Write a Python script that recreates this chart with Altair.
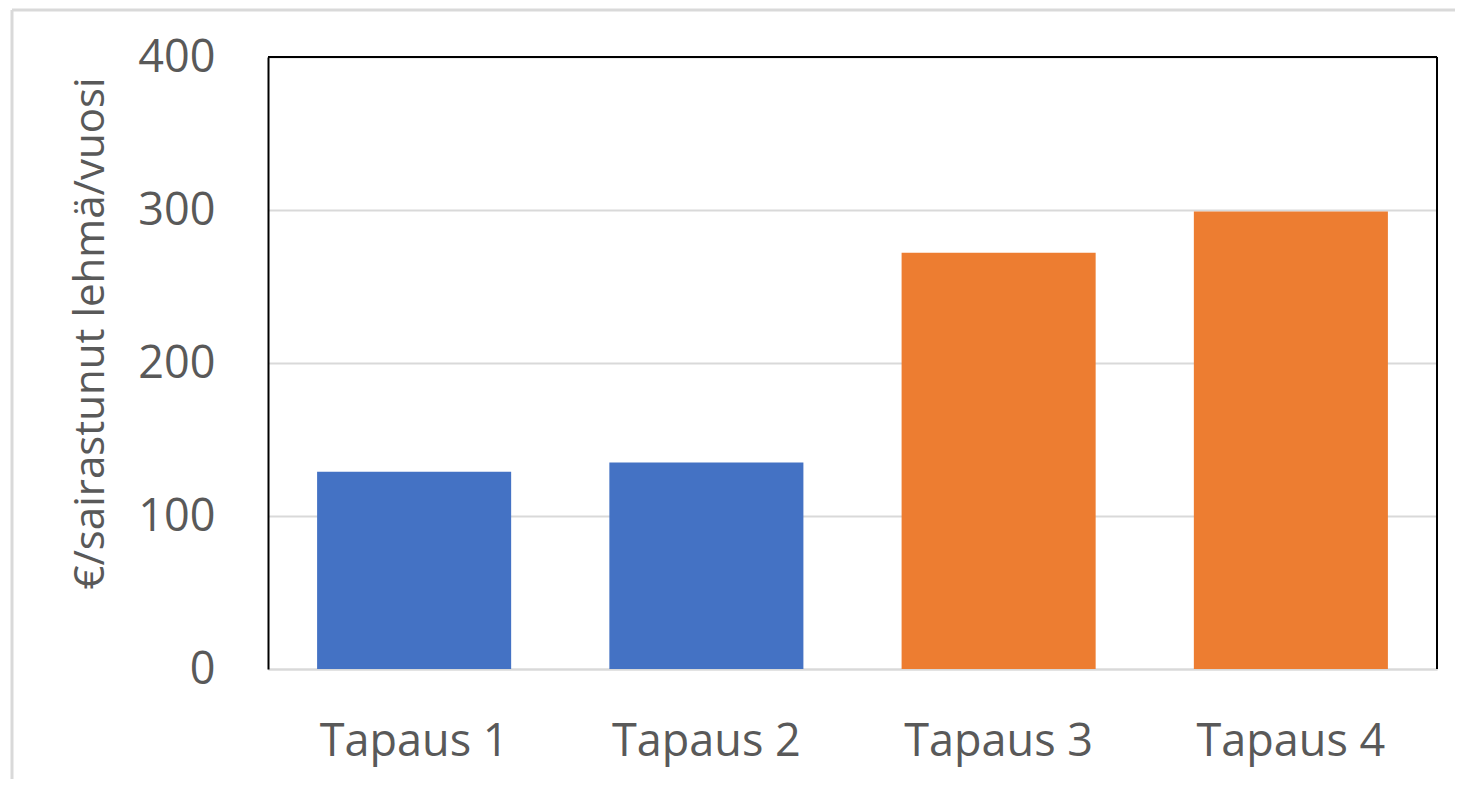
import altair as alt
import pandas as pd

categories = ["Tapaus 1", "Tapaus 2", "Tapaus 3", "Tapaus 4"]
values = [129, 135, 272, 299]
bar_colors = ["#4472C4", "#4472C4", "#ED7D31", "#ED7D31"]
y_ticks = [0, 100, 200, 300, 400]
y_title = "€/sairastunut lehmä/vuosi"

FONT = "Open Sans"
TXT = "#595959"
W, H = 1169, 612

df = pd.DataFrame({"category": categories, "value": values})
one = pd.DataFrame({"k": [0]})

bars = alt.Chart(df).mark_bar(stroke=None).encode(
    x=alt.X(
        "category:N",
        sort=categories,
        scale=alt.Scale(paddingInner=0.336, paddingOuter=0.168),
        axis=alt.Axis(
            title=None,
            labelAngle=0,
            labelFont=FONT,
            labelFontSize=45,
            labelColor=TXT,
            labelBaseline="alphabetic",
            labelPadding=86,
            labelLimit=500,
            ticks=False,
            tickSize=0,
            domain=True,
            domainColor="#d9d9d9",
            domainWidth=2,
            grid=False,
        ),
    ),
    y=alt.Y(
        "value:Q",
        scale=alt.Scale(domain=[0, 400], nice=False),
        axis=alt.Axis(
            values=y_ticks,
            title=y_title,
            titleFont=FONT,
            titleFontSize=42,
            titleFontWeight="normal",
            titleColor=TXT,
            titleAngle=270,
            titleAlign="center",
            titleBaseline="alphabetic",
            titleX=-165,
            titleY=276,
            titleLimit=800,
            labelFont=FONT,
            labelFontSize=45,
            labelColor=TXT,
            labelPadding=53,
            labelBaseline="middle",
            labelLimit=300,
            ticks=False,
            tickSize=0,
            domain=True,
            domainColor="#000000",
            domainWidth=2,
            grid=True,
            gridColor="#d9d9d9",
            gridWidth=2,
        ),
    ),
    color=alt.Color(
        "category:N",
        scale=alt.Scale(domain=categories, range=bar_colors),
        legend=None,
    ),
)

frame_top = alt.Chart(one).mark_rule(color="#000000", strokeWidth=2).encode(
    x=alt.value(0), x2=alt.value(W), y=alt.value(0)
)
frame_right = alt.Chart(one).mark_rule(color="#000000", strokeWidth=2).encode(
    x=alt.value(W), y=alt.value(0), y2=alt.value(H)
)
outer_top = alt.Chart(one).mark_rule(color="#d9d9d9", strokeWidth=3).encode(
    x=alt.value(-256), x2=alt.value(W + 30), y=alt.value(-47)
)
outer_left = alt.Chart(one).mark_rule(color="#d9d9d9", strokeWidth=3).encode(
    x=alt.value(-256), y=alt.value(-47), y2=alt.value(H + 120)
)

chart = alt.layer(bars, frame_top, frame_right, outer_top, outer_left).properties(
    width=W,
    height=H,
    autosize=alt.AutoSizeParams(type="none"),
    padding={"left": 260, "top": 49, "right": 18, "bottom": 110},
    background="#ffffff",
).configure_view(stroke=None)

chart.save("out.html", embed_options={"renderer": "svg", "actions": False})
